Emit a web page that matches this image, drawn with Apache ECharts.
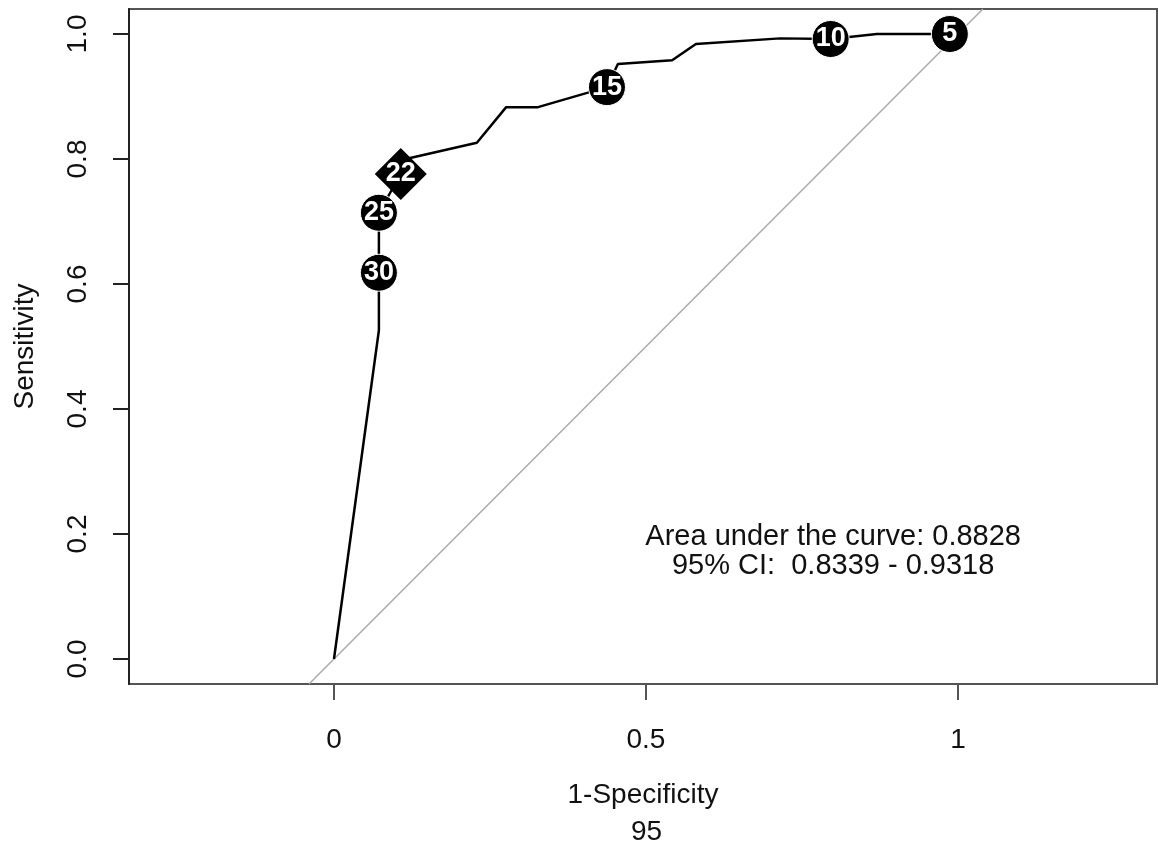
<!DOCTYPE html>
<html>
<head>
<meta charset="utf-8">
<script src="https://cdn.jsdelivr.net/npm/echarts@6/dist/echarts.min.js"></script>
<style>
html,body{margin:0;padding:0;background:#fff;}
#chart{width:1158px;height:848px;}
</style>
</head>
<body>
<div id="chart"></div>
<script>
// ROC curve (1-Specificity, Sensitivity)
const fpr = [0, 0.072, 0.072, 0.072, 0.107, 0.115, 0.229, 0.276, 0.327, 0.4375, 0.455, 0.542, 0.58, 0.715, 0.796, 0.87, 0.987];
const tpr = [0, 0.526, 0.618, 0.714, 0.776, 0.800, 0.826, 0.883, 0.883, 0.915, 0.952, 0.958, 0.984, 0.993, 0.992, 1.0, 1.0];

// Threshold points
const thrLabels = ['30', '25', '15', '10', '5'];
const thrX = [0.072, 0.072, 0.4375, 0.796, 0.987];
const thrY = [0.618, 0.714, 0.915, 0.992, 1.0];
// Best threshold (diamond)
const bestLabel = ['22'];
const bestX = [0.107];
const bestY = [0.776];

// Chance diagonal
const diagX = [-0.04, 1.04];
const diagY = [-0.04, 1.04];

const xTicks = [0, 0.5, 1];
const yTicks = [0, 0.2, 0.4, 0.6, 0.8, 1.0];

const aucLines = ['Area under the curve: 0.8828', '95% CI:  0.8339 - 0.9318'];
const aucX = [0.8, 0.8];
const aucY = [0.195, 0.149];

const FONT = '"Liberation Sans", Arial, sans-serif';

const chart = echarts.init(document.getElementById('chart'), null, {renderer: 'canvas'});

const option = {
  backgroundColor: '#fff',
  animation: false,
  textStyle: {fontFamily: FONT},
  grid: {
    left: 129, right: 1, top: 9, bottom: 164,
    show: true, borderColor: '#555', borderWidth: 2, backgroundColor: '#fff'
  },
  xAxis: {
    type: 'value', min: -0.3285, max: 1.319,
    name: '1-Specificity', nameLocation: 'middle', nameGap: 97,
    nameTextStyle: {fontSize: 28, color: '#111', fontFamily: FONT},
    axisLine: {show: false, onZero: false},
    splitLine: {show: false},
    axisTick: {show: true, inside: false, customValues: xTicks, length: 16, lineStyle: {color: '#555', width: 2}},
    axisLabel: {show: true, customValues: xTicks, margin: 42, fontSize: 28, color: '#111', fontFamily: FONT,
      formatter: v => String(v)}
  },
  yAxis: {
    type: 'value', min: -0.04, max: 1.04,
    name: 'Sensitivity', nameLocation: 'middle', nameGap: 90, nameRotate: 90,
    nameTextStyle: {fontSize: 28, color: '#111', fontFamily: FONT},
    axisLine: {show: true, onZero: false, lineStyle: {color: '#222', width: 2}},
    splitLine: {show: false},
    axisTick: {show: true, inside: false, customValues: yTicks, length: 16, lineStyle: {color: '#222', width: 2}},
    axisLabel: {show: true, customValues: yTicks, rotate: 90, margin: 37, fontSize: 28, color: '#111', fontFamily: FONT,
      formatter: v => v.toFixed(1)}
  },
  graphic: [{
    type: 'text', left: 631, top: 818,
    style: {text: '95', fontSize: 28, fill: '#111', fontFamily: FONT}
  }],
  series: [
    {
      type: 'line', data: diagX.map((x, i) => [x, diagY[i]]),
      symbol: 'none', lineStyle: {color: '#aaa', width: 1.5}, z: 1, clip: true, silent: true
    },
    {
      type: 'line', data: fpr.map((x, i) => [x, tpr[i]]),
      symbol: 'none', lineStyle: {color: '#000', width: 2.5}, z: 2, silent: true
    },
    {
      type: 'scatter', data: bestX.map((x, i) => [x, bestY[i], bestLabel[i]]),
      symbol: 'diamond', symbolSize: [52, 52], itemStyle: {color: '#000', opacity: 1}, z: 3,
      label: {show: true, position: 'inside', formatter: p => p.data[2], color: '#fff', fontSize: 27, fontWeight: 'bold', fontFamily: FONT}
    },
    {
      type: 'scatter', data: thrX.map((x, i) => [x, thrY[i], thrLabels[i]]),
      symbol: 'circle', symbolSize: 37, itemStyle: {color: '#000', opacity: 1, borderColor: '#fff', borderWidth: 1}, z: 4,
      label: {show: true, position: 'inside', formatter: p => p.data[2], color: '#fff', fontSize: 27, fontWeight: 'bold', fontFamily: FONT}
    },
    {
      type: 'scatter', data: aucX.map((x, i) => [x, aucY[i], aucLines[i]]),
      symbolSize: 0, z: 5, silent: true, itemStyle: {opacity: 1},
      label: {show: true, position: 'inside', formatter: p => p.data[2], color: '#111', fontSize: 29, fontFamily: FONT}
    }
  ]
};
chart.setOption(option);
</script>
</body>
</html>
